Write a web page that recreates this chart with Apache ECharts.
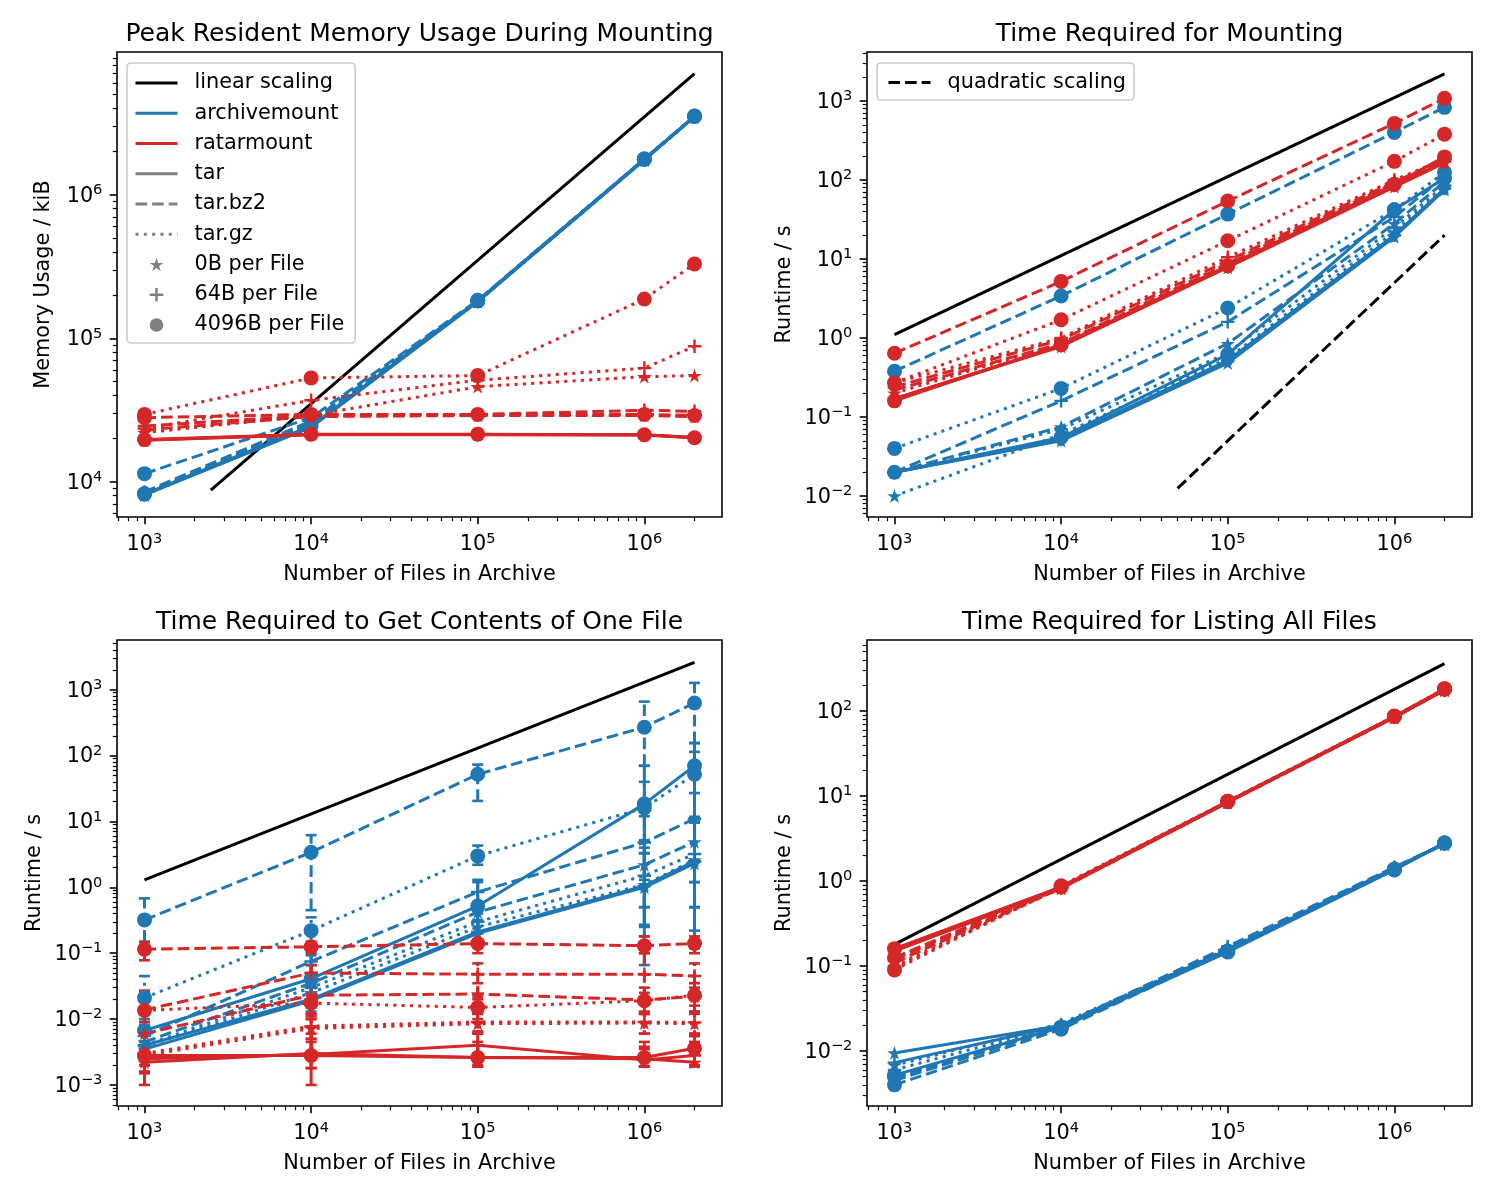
<!DOCTYPE html>
<html>
<head>
<meta charset="utf-8">
<script src="https://cdn.jsdelivr.net/npm/echarts/dist/echarts.min.js"></script>
<style>html,body{margin:0;padding:0;background:#fff}#c{width:1500px;height:1200px}</style>
</head>
<body>
<div id="c"></div>
<script>
// ---------------- DATA ----------------
const FILE_COUNTS = [1e3, 1e4, 1e5, 1e6, 2e6];
const X_TICKS = [1e3, 1e4, 1e5, 1e6];
const FILE_SIZES = ['0B', '64B', '4096B'];

// rows: 0B, 64B, 4096B per file
// Peak resident memory (kiB)
const mem_archivemount_tar = [[8100, 24000, 180000, 1750000, 3500000], [8150, 24300, 181000, 1760000, 3510000], [8200, 24500, 182000, 1770000, 3520000]];
const mem_archivemount_bz2 = [[8300, 25500, 181000, 1760000, 3500000], [8500, 26500, 182000, 1770000, 3510000], [11400, 28000, 184000, 1780000, 3540000]];
const mem_archivemount_gz  = [[8100, 24500, 180000, 1750000, 3500000], [8200, 25000, 181000, 1760000, 3510000], [8300, 26000, 183000, 1770000, 3530000]];
const mem_ratarmount_tar   = [[19500, 21300, 21300, 21200, 20300], [19600, 21400, 21400, 21300, 20400], [19700, 21500, 21500, 21300, 20300]];
const mem_ratarmount_bz2   = [[23000, 28500, 29000, 29000, 28500], [24500, 29000, 29500, 31500, 31000], [28000, 29500, 29500, 29500, 29000]];
const mem_ratarmount_gz    = [[22000, 29000, 46000, 54000, 55000], [23500, 37000, 51000, 62000, 88000], [29500, 53000, 55000, 188000, 330000]];
const mem_linear = [[2500, 8750], [2e6, 7e6]];
const mem_yticks = [1e4, 1e5, 1e6];

// Mount time (s)
const mount_archivemount_tar = [[0.02, 0.05, 0.48, 19, 75], [0.02, 0.052, 0.52, 20, 78], [0.02, 0.055, 0.62, 42, 105]];
const mount_archivemount_bz2 = [[0.02, 0.075, 0.85, 28, 95], [0.02, 0.16, 1.6, 34, 110], [0.38, 3.4, 37, 400, 830]];
const mount_archivemount_gz  = [[0.01, 0.06, 0.55, 22, 80], [0.02, 0.07, 0.65, 25, 85], [0.04, 0.23, 2.4, 42, 125]];
const mount_ratarmount_tar   = [[0.17, 0.78, 7.8, 82, 165], [0.17, 0.8, 8.0, 85, 170], [0.16, 0.82, 8.2, 88, 196]];
const mount_ratarmount_bz2   = [[0.22, 0.85, 8.6, 90, 175], [0.24, 0.95, 9.5, 95, 180], [0.64, 5.2, 54, 520, 1080]];
const mount_ratarmount_gz    = [[0.2, 0.85, 8.8, 92, 172], [0.27, 1.0, 10.5, 100, 185], [0.27, 1.7, 17, 172, 380]];
const mount_linear = [[1e3, 1.1], [2e6, 2200]];
const mount_quadratic = [[5e4, 0.0125], [2e6, 20]];
const mount_yticks = [1e-2, 1e-1, 1, 10, 100, 1000];

// Time to get contents of one file (s), with error ranges
const get_archivemount_tar    = [[0.0035, 0.019, 0.2, 1.0, 2.3], [0.004, 0.02, 0.21, 1.05, 2.5], [0.0067, 0.041, 0.52, 18.5, 70]];
const get_archivemount_tar_lo = [[0.002, 0.012, 0.13, 0.27, 0.5], [0.0025, 0.013, 0.14, 0.25, 0.22], [0.004, 0.025, 0.13, 0.066, 0.12]];
const get_archivemount_tar_hi = [[0.006, 0.03, 0.3, 3.3, 9.6], [0.0065, 0.032, 0.32, 5.2, 11.7], [0.012, 0.093, 1.3, 70, 155]];
const get_archivemount_bz2    = [[0.0045, 0.035, 0.42, 2.2, 4.9], [0.0055, 0.075, 0.85, 4.8, 11], [0.32, 3.4, 52, 270, 630]];
const get_archivemount_bz2_lo = [[0.003, 0.02, 0.2, 0.5, 1.2], [0.0035, 0.045, 0.5, 1.3, 0.5], [0.15, 0.45, 20.5, 70, 155]];
const get_archivemount_bz2_hi = [[0.007, 0.05, 0.6, 5.0, 10], [0.009, 0.12, 1.2, 12, 27], [0.68, 6.2, 73, 660, 1270]];
const get_archivemount_gz     = [[0.0038, 0.025, 0.25, 1.1, 2.6], [0.004, 0.03, 0.3, 1.5, 3.2], [0.021, 0.22, 3.0, 16, 52]];
const get_archivemount_gz_lo  = [[0.0025, 0.015, 0.15, 0.5, 1.2], [0.0028, 0.018, 0.2, 0.18, 0.5], [0.01, 0.12, 2.2, 3.3, 0.12]];
const get_archivemount_gz_hi  = [[0.006, 0.04, 0.4, 3.3, 9.6], [0.006, 0.045, 0.45, 4.0, 11.7], [0.045, 0.35, 4.3, 40, 114]];
const get_ratarmount_tar      = [[0.0022, 0.003, 0.0026, 0.0025, 0.0022], [0.0025, 0.0029, 0.004, 0.0024, 0.0028], [0.0028, 0.0028, 0.0026, 0.0026, 0.0036]];
const get_ratarmount_tar_lo   = [[0.0015, 0.0018, 0.0019, 0.0019, 0.0019], [0.0016, 0.0018, 0.002, 0.0019, 0.002], [0.001, 0.001, 0.0019, 0.0019, 0.002]];
const get_ratarmount_tar_hi   = [[0.0045, 0.0045, 0.004, 0.0035, 0.003], [0.004, 0.006, 0.0065, 0.0038, 0.0045], [0.027, 0.066, 0.0045, 0.0045, 0.0055]];
const get_ratarmount_bz2      = [[0.006, 0.023, 0.024, 0.0195, 0.022], [0.0138, 0.05, 0.048, 0.048, 0.045], [0.115, 0.125, 0.14, 0.13, 0.14]];
const get_ratarmount_bz2_lo   = [[0.004, 0.012, 0.012, 0.012, 0.013], [0.008, 0.03, 0.02, 0.02, 0.02], [0.078, 0.1, 0.1, 0.1, 0.1]];
const get_ratarmount_bz2_hi   = [[0.009, 0.035, 0.035, 0.03, 0.035], [0.025, 0.066, 0.07, 0.1, 0.07], [0.147, 0.15, 0.16, 0.18, 0.18]];
const get_ratarmount_gz       = [[0.0028, 0.0072, 0.0085, 0.0087, 0.0085], [0.003, 0.0078, 0.009, 0.009, 0.0089], [0.0135, 0.0175, 0.015, 0.019, 0.023]];
const get_ratarmount_gz_lo    = [[0.002, 0.005, 0.006, 0.006, 0.006], [0.002, 0.005, 0.006, 0.006, 0.006], [0.008, 0.01, 0.01, 0.012, 0.016]];
const get_ratarmount_gz_hi    = [[0.004, 0.01, 0.012, 0.012, 0.012], [0.0045, 0.011, 0.013, 0.013, 0.013], [0.02, 0.025, 0.022, 0.025, 0.03]];
const get_linear = [[1e3, 1.3], [2e6, 2600]];
const get_yticks = [1e-3, 1e-2, 1e-1, 1, 10, 100, 1000];

// Time for listing all files (s)
const list_archivemount_tar = [[0.0095, 0.02, 0.15, 1.4, 2.75], [0.0073, 0.02, 0.155, 1.42, 2.78], [0.0052, 0.019, 0.146, 1.35, 2.8]];
const list_archivemount_bz2 = [[0.0045, 0.019, 0.16, 1.45, 2.7], [0.0048, 0.02, 0.17, 1.45, 2.75], [0.004, 0.018, 0.15, 1.38, 2.8]];
const list_archivemount_gz  = [[0.0068, 0.021, 0.155, 1.4, 2.7], [0.006, 0.02, 0.16, 1.42, 2.75], [0.005, 0.019, 0.148, 1.36, 2.8]];
const list_ratarmount_tar   = [[0.15, 0.82, 8.4, 84, 176], [0.155, 0.83, 8.5, 85, 178], [0.16, 0.85, 8.6, 86, 182]];
const list_ratarmount_bz2   = [[0.11, 0.82, 8.4, 84, 176], [0.12, 0.83, 8.5, 85, 178], [0.125, 0.86, 8.6, 86, 180]];
const list_ratarmount_gz    = [[0.095, 0.84, 8.5, 85, 177], [0.1, 0.85, 8.6, 86, 179], [0.09, 0.88, 8.7, 87, 183]];
const list_linear = [[1e3, 0.18], [2e6, 360]];
const list_yticks = [1e-2, 1e-1, 1, 10, 100];

// ---------------- STYLE ----------------
const FONT = 'DejaVu Sans';
const BLUE = '#1f77b4', RED = '#d62728', GREY = '#808080';
const LW = 3;
const DASHED = [11.6, 5], DOTTED = [3.1, 5.2];
const STAR = 'path://M0,-1L0.2245,-0.309L0.9511,-0.309L0.3633,0.118L0.5878,0.809L0,0.382L-0.5878,0.809L-0.3633,0.118L-0.9511,-0.309L-0.2245,-0.309Z';
const PLUS = 'path://M0,4.1L10,4.1L10,5.9L0,5.9Z M4.1,0L5.9,0L5.9,10L4.1,10Z';
const TOOLS = [{label: 'archivemount', color: BLUE}, {label: 'ratarmount', color: RED}];
const COMPS = [{label: 'tar', dash: 'solid'}, {label: 'tar.bz2', dash: DASHED}, {label: 'tar.gz', dash: DOTTED}];
const SYMS = [{symbol: STAR, size: 14.5}, {symbol: PLUS, size: 13.5}, {symbol: 'circle', size: 15}];
const X_LOG = [2.835, 6.466];

const PANELS = [
  {title: 'Peak Resident Memory Usage During Mounting', ylabel: 'Memory Usage / kiB', left: 117, top: 52, height: 465,
   yLog: [3.755, 6.995], yTicks: mem_yticks, yGap: 62.6, linear: mem_linear,
   data: {archivemount: [mem_archivemount_tar, mem_archivemount_bz2, mem_archivemount_gz],
          ratarmount: [mem_ratarmount_tar, mem_ratarmount_bz2, mem_ratarmount_gz]}},
  {title: 'Time Required for Mounting', ylabel: 'Runtime / s', left: 867, top: 52, height: 465,
   yLog: [-2.266, 3.62], yTicks: mount_yticks, yGap: 71.6, linear: mount_linear, quadratic: mount_quadratic,
   data: {archivemount: [mount_archivemount_tar, mount_archivemount_bz2, mount_archivemount_gz],
          ratarmount: [mount_ratarmount_tar, mount_ratarmount_bz2, mount_ratarmount_gz]}},
  {title: 'Time Required to Get Contents of One File', ylabel: 'Runtime / s', left: 117, top: 640, height: 466,
   yLog: [-3.32, 3.755], yTicks: get_yticks, yGap: 71.6, linear: get_linear,
   data: {archivemount: [get_archivemount_tar, get_archivemount_bz2, get_archivemount_gz],
          ratarmount: [get_ratarmount_tar, get_ratarmount_bz2, get_ratarmount_gz]},
   lo: {archivemount: [get_archivemount_tar_lo, get_archivemount_bz2_lo, get_archivemount_gz_lo],
        ratarmount: [get_ratarmount_tar_lo, get_ratarmount_bz2_lo, get_ratarmount_gz_lo]},
   hi: {archivemount: [get_archivemount_tar_hi, get_archivemount_bz2_hi, get_archivemount_gz_hi],
        ratarmount: [get_ratarmount_tar_hi, get_ratarmount_bz2_hi, get_ratarmount_gz_hi]}},
  {title: 'Time Required for Listing All Files', ylabel: 'Runtime / s', left: 867, top: 640, height: 466,
   yLog: [-2.647, 2.835], yTicks: list_yticks, yGap: 71.6, linear: list_linear,
   data: {archivemount: [list_archivemount_tar, list_archivemount_bz2, list_archivemount_gz],
          ratarmount: [list_ratarmount_tar, list_ratarmount_bz2, list_ratarmount_gz]}}
];

const RICH = {
  b: {fontSize: 20.8, fontFamily: FONT, color: '#000', lineHeight: 24, verticalAlign: 'bottom'},
  s: {fontSize: 14.6, fontFamily: FONT, color: '#000', lineHeight: 17, verticalAlign: 'top'}
};
function sciLabel(v) {
  const e = Math.round(Math.log10(v));
  return '{b|10}{s|' + (e < 0 ? '\u2212' + (-e) : String(e)) + '}';
}
function minorTicks(lo, hi) {
  const out = [];
  for (let d = Math.floor(lo); d <= Math.ceil(hi); d++) {
    for (let k = 2; k <= 9; k++) {
      const v = k * Math.pow(10, d);
      const l = Math.log10(v);
      if (l > lo && l < hi) out.push(v);
    }
  }
  return out;
}

const grids = [], xAxes = [], yAxes = [], series = [], titles = [];

PANELS.forEach((p, g) => {
  grids.push({left: p.left, top: p.top, width: 605, height: p.height, show: true,
              borderColor: '#000', borderWidth: 1.6, backgroundColor: 'transparent'});
  titles.push({text: p.title, left: p.left + 302.5, top: p.top - 30, textAlign: 'center', padding: 0,
               textStyle: {fontSize: 25, fontWeight: 'normal', color: '#000', fontFamily: FONT}});
  const xc = {type: 'log', gridIndex: g, min: Math.pow(10, X_LOG[0]), max: Math.pow(10, X_LOG[1]),
              position: 'bottom', splitLine: {show: false}, axisLine: {show: false, onZero: false}};
  xAxes.push(Object.assign({}, xc, {
    name: 'Number of Files in Archive', nameLocation: 'middle', nameGap: 47.5,
    nameTextStyle: {fontSize: 20.8, color: '#000', fontFamily: FONT},
    axisTick: {show: true, customValues: X_TICKS, length: 7.3, lineStyle: {color: '#000', width: 1.6}},
    axisLabel: {show: true, customValues: X_TICKS, margin: 14.6, formatter: sciLabel, rich: RICH}
  }));
  xAxes.push(Object.assign({}, xc, {
    axisTick: {show: true, customValues: minorTicks(X_LOG[0], X_LOG[1]), length: 4.2, lineStyle: {color: '#000', width: 1.2}},
    axisLabel: {show: false}
  }));
  const yc = {type: 'log', gridIndex: g, min: Math.pow(10, p.yLog[0]), max: Math.pow(10, p.yLog[1]),
              position: 'left', splitLine: {show: false}, axisLine: {show: false, onZero: false}};
  yAxes.push(Object.assign({}, yc, {
    name: p.ylabel, nameLocation: 'middle', nameGap: p.yGap,
    nameTextStyle: {fontSize: 20.8, color: '#000', fontFamily: FONT},
    axisTick: {show: true, customValues: p.yTicks, length: 7.3, lineStyle: {color: '#000', width: 1.6}},
    axisLabel: {show: true, customValues: p.yTicks, margin: 14.6, formatter: sciLabel, rich: RICH, align: 'right'}
  }));
  yAxes.push(Object.assign({}, yc, {
    axisTick: {show: true, customValues: minorTicks(p.yLog[0], p.yLog[1]), length: 4.2, lineStyle: {color: '#000', width: 1.2}},
    axisLabel: {show: false}
  }));

  const ax = {xAxisIndex: 2 * g, yAxisIndex: 2 * g};
  series.push(Object.assign({type: 'line', name: 'linear scaling', data: p.linear, symbol: 'none',
    lineStyle: {color: '#000', width: LW}, itemStyle: {color: '#000'}, silent: true}, ax));
  if (p.quadratic) {
    series.push(Object.assign({type: 'line', name: 'quadratic scaling', data: p.quadratic, symbol: 'none',
      lineStyle: {color: '#000', width: LW, type: DASHED}, itemStyle: {color: '#000'}, silent: true}, ax));
  }
  TOOLS.forEach(tool => {
    COMPS.forEach((comp, ci) => {
      SYMS.forEach((sym, si) => {
        const vals = p.data[tool.label][ci][si];
        if (p.lo) {
          const lo = p.lo[tool.label][ci][si], hi = p.hi[tool.label][ci][si];
          const color = tool.color, dash = comp.dash === 'solid' ? null : comp.dash;
          series.push(Object.assign({
            type: 'custom', name: tool.label + ' ' + comp.label + ' ' + FILE_SIZES[si] + ' err', silent: true,
            data: FILE_COUNTS.map((x, i) => [x, lo[i], hi[i]]),
            encode: {x: 0, y: [1, 2]},
            renderItem: (params, api) => {
              const x = api.value(0);
              const a = api.coord([x, api.value(1)]), b = api.coord([x, api.value(2)]);
              const cw = 5.5;
              return {type: 'group', children: [
                {type: 'line', shape: {x1: a[0], y1: a[1], x2: b[0], y2: b[1]}, style: {stroke: color, lineWidth: LW, lineDash: dash}},
                {type: 'line', shape: {x1: a[0] - cw, y1: a[1], x2: a[0] + cw, y2: a[1]}, style: {stroke: color, lineWidth: 2.6}},
                {type: 'line', shape: {x1: b[0] - cw, y1: b[1], x2: b[0] + cw, y2: b[1]}, style: {stroke: color, lineWidth: 2.6}}
              ]};
            }
          }, ax));
        }
        series.push(Object.assign({
          type: 'line', name: tool.label + ' ' + comp.label + ' ' + FILE_SIZES[si], silent: true,
          data: FILE_COUNTS.map((x, i) => [x, vals[i]]),
          symbol: sym.symbol, symbolSize: sym.size, symbolKeepAspect: true, showAllSymbol: true,
          lineStyle: {color: tool.color, width: LW, type: comp.dash},
          itemStyle: {color: tool.color, opacity: 1}
        }, ax));
      });
    });
  });
});

// proxy series for the legend (no data)
const proxies = [
  {name: 'archivemount', color: BLUE, type: 'solid', symbol: 'none'},
  {name: 'ratarmount', color: RED, type: 'solid', symbol: 'none'},
  {name: 'tar', color: GREY, type: 'solid', symbol: 'none'},
  {name: 'tar.bz2', color: GREY, type: DASHED, symbol: 'none'},
  {name: 'tar.gz', color: GREY, type: DOTTED, symbol: 'none'},
  {name: '0B per File', color: GREY, type: 'solid', symbol: STAR},
  {name: '64B per File', color: GREY, type: 'solid', symbol: PLUS},
  {name: '4096B per File', color: GREY, type: 'solid', symbol: 'circle'}
];
proxies.forEach(pr => series.push({type: 'line', name: pr.name, data: [], xAxisIndex: 0, yAxisIndex: 0,
  symbol: pr.symbol, symbolKeepAspect: true, lineStyle: {color: pr.color, width: LW, type: pr.type}, itemStyle: {color: pr.color}}));

const legendCommon = {
  orient: 'vertical', itemWidth: 42, itemHeight: 17, itemGap: 9.25, selectedMode: false,
  backgroundColor: 'rgba(255,255,255,0.8)', borderColor: '#cccccc', borderWidth: 1.6, borderRadius: 4,
  textStyle: {fontSize: 20.8, color: '#000', fontFamily: FONT, lineHeight: 21, padding: [0, 0, 0, 12]}
};
const lineOnly = n => ({name: n, itemStyle: {opacity: 0}, lineStyle: {width: LW}});
const markOnly = n => ({name: n, lineStyle: {opacity: 0}});

const option = {
  animation: false,
  backgroundColor: '#fff',
  textStyle: {fontFamily: FONT},
  title: titles,
  grid: grids,
  xAxis: xAxes,
  yAxis: yAxes,
  legend: [
    Object.assign({}, legendCommon, {left: 127, top: 63, padding: [9.5, 11, 7.5, 7],
      data: [lineOnly('linear scaling'), lineOnly('archivemount'), lineOnly('ratarmount'), lineOnly('tar'),
             lineOnly('tar.bz2'), lineOnly('tar.gz'), markOnly('0B per File'), markOnly('64B per File'), markOnly('4096B per File')]}),
    Object.assign({}, legendCommon, {left: 877, top: 63, padding: [9, 8, 7, 10],
      data: [lineOnly('quadratic scaling')]})
  ],
  series: series
};

const chart = echarts.init(document.getElementById('c'), null, {renderer: 'canvas'});
chart.setOption(option);
</script>
</body>
</html>
